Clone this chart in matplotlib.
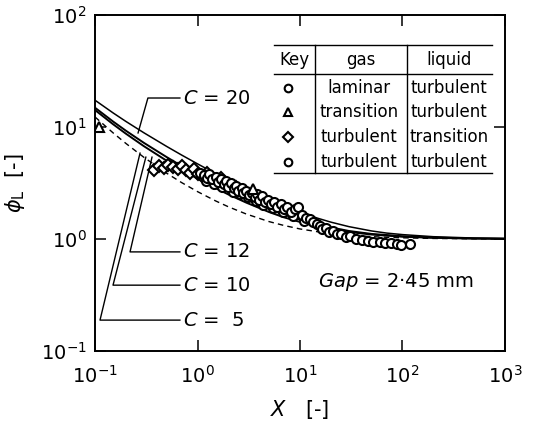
import matplotlib
matplotlib.use('Agg')
import matplotlib.pyplot as plt
from matplotlib.lines import Line2D

plt.rcParams['font.family'] = 'DejaVu Sans'
plt.rcParams['mathtext.fontset'] = 'dejavusans'

# correlation curves
curve_x = [0.1, 0.15, 0.2, 0.3, 0.5, 0.7, 1, 1.5, 2, 3, 5, 7, 10, 15, 20,
           30, 50, 70, 100, 200, 500, 1000]
c20 = [17.35, 13.37, 11.22, 8.88, 6.71, 5.62, 4.69, 3.84, 3.35, 2.79, 2.24,
       1.97, 1.73, 1.53, 1.415, 1.29, 1.18, 1.13, 1.095, 1.049, 1.020, 1.010]
c12 = [14.87, 11.20, 9.27, 7.22, 5.39, 4.49, 3.74, 3.07, 2.69, 2.26, 1.85,
       1.65, 1.49, 1.34, 1.27, 1.18, 1.11, 1.086, 1.058, 1.030, 1.012, 1.006]
c10 = [14.18, 10.59, 8.72, 6.74, 5.00, 4.16, 3.46, 2.85, 2.50, 2.11, 1.74,
       1.56, 1.42, 1.29, 1.23, 1.155, 1.096, 1.072, 1.049, 1.025, 1.010, 1.005]
c5 = [12.29, 8.87, 7.14, 5.36, 3.87, 3.19, 2.65, 2.19, 1.94, 1.67, 1.43,
      1.32, 1.23, 1.16, 1.12, 1.08, 1.05, 1.036, 1.025, 1.012, 1.005, 1.0025]

# measured points
diam_x = [0.38, 0.42, 0.47, 0.52, 0.58, 0.64, 0.7, 0.77, 0.85, 0.93, 1.02,
          1.12, 1.25, 1.4, 1.55, 1.7, 1.9, 2.1, 2.4]
diam_y = [4.1, 4.5, 4.3, 4.6, 4.4, 4.2, 4.5, 4.1, 3.9, 4.2, 3.8, 3.6, 3.9,
          3.5, 3.3, 3.5, 3.1, 3.0, 2.9]

tri_x = [0.11, 3.5]
tri_y = [10.0, 2.8]

lam_x = [1.2, 1.45, 1.75, 2.2, 2.6, 3.1, 3.7, 4.4, 5.4, 6.8, 8.5, 11]
lam_y = [3.3, 3.1, 2.9, 2.65, 2.5, 2.35, 2.2, 2.0, 1.9, 1.75, 1.62, 1.45]

turb_x = [1.05, 1.15, 1.25, 1.3, 1.4, 1.5, 1.6, 1.7, 1.8, 1.9, 2.0, 2.1,
          2.25, 2.4, 2.5, 2.7, 2.8, 3.0, 3.2, 3.4, 3.6, 3.8, 4.0, 4.3, 4.6,
          4.9, 5.2, 5.6, 6.0, 6.5, 7.0, 7.5, 8.2, 9.0, 9.6, 10.5, 11.5, 12.5,
          13.5, 14.5, 15.5, 16.5, 18, 19, 21, 23, 25, 28, 31, 35, 40, 46, 52,
          60, 68, 78, 88, 97, 118]
turb_y = [3.9, 3.7, 3.5, 3.8, 3.4, 3.6, 3.2, 3.4, 3.1, 3.3, 2.9, 3.15,
          2.85, 3.0, 2.7, 2.85, 2.55, 2.7, 2.45, 2.6, 2.35, 2.5, 2.25, 2.4,
          2.15, 2.25, 2.05, 2.15, 1.95, 2.05, 1.85, 1.95, 1.75, 1.85, 1.95,
          1.65, 1.55, 1.5, 1.42, 1.35, 1.3, 1.22, 1.25, 1.15, 1.18, 1.1, 1.12,
          1.05, 1.06, 1.0, 0.98, 0.96, 0.95, 0.94, 0.93, 0.92, 0.9, 0.88, 0.91]

key_rows = [('o', 'laminar', 'turbulent'),
            ('^', 'transition', 'turbulent'),
            ('D', 'turbulent', 'transition'),
            ('o', 'turbulent', 'turbulent')]

fig = plt.figure(figsize=(5.35, 4.34), dpi=100)
ax = fig.add_axes([0.1776, 0.1912, 0.7663, 0.7742])

ax.plot(curve_x, c20, color='black', lw=1.1)
ax.plot(curve_x, c12, color='black', lw=1.4)
ax.plot(curve_x, c10, color='black', lw=1.4)
ax.plot(curve_x, c5, color='black', lw=1.0, dashes=(4, 3))

mk = dict(linestyle='none', mfc='white', mec='black', mew=1.5)
ax.plot(diam_x, diam_y, marker='D', ms=6, **mk)
ax.plot(lam_x, lam_y, marker='o', ms=6.5, **mk)
ax.plot(turb_x, turb_y, marker='o', ms=6.5, **mk)
ax.plot(tri_x, tri_y, marker='^', ms=6.5, **mk)

ax.set_xscale('log')
ax.set_yscale('log')
ax.set_xlim(0.1, 1000)
ax.set_ylim(0.1, 100)
ax.minorticks_off()
ax.tick_params(which='major', direction='in', length=8, width=1.1,
               top=True, right=True, labelsize=14)
ax.tick_params(axis='x', pad=10)
ax.tick_params(axis='y', pad=6)
for s in ax.spines.values():
    s.set_linewidth(1.4)

ax.set_xlabel(r'$X$   [-]', fontsize=15, labelpad=8)
ax.set_ylabel(r'$\phi_{\rm L}$  [-]', fontsize=15, labelpad=10)

# leaders to the curves (axes fraction)
tr = ax.transAxes
lk = dict(color='black', lw=1.0, transform=tr)
ax.plot([0.207, 0.129, 0.105], [0.753, 0.753, 0.649], **lk)
ax.plot([0.139, 0.0854, 0.207], [0.577, 0.295, 0.295], **lk)
ax.plot([0.124, 0.0439, 0.207], [0.577, 0.196, 0.196], **lk)
ax.plot([0.1098, 0.0122, 0.207], [0.589, 0.092, 0.092], **lk)
tk = dict(transform=tr, fontsize=14, ha='left', va='center')
ax.text(0.215, 0.753, r'$C$ = 20', **tk)
ax.text(0.215, 0.295, r'$C$ = 12', **tk)
ax.text(0.215, 0.196, r'$C$ = 10', **tk)
ax.text(0.215, 0.092, r'$C$ =  5', **tk)

ax.text(0.545, 0.205, r'$Gap$ = 2·45 mm', transform=tr, fontsize=14,
        ha='left', va='center')

# key table
x0, x1 = 0.437, 0.968
d1, d2 = 0.537, 0.761
yt, yh, yb = 0.911, 0.824, 0.530
for yy in (yt, yh, yb):
    ax.add_line(Line2D([x0, x1], [yy, yy], color='black', lw=1.0,
                       transform=tr))
for xx in (d1, d2):
    ax.add_line(Line2D([xx, xx], [yt, yb], color='black', lw=1.0,
                       transform=tr))
hk = dict(transform=tr, fontsize=12, ha='center', va='center')
ax.text(0.487, 0.866, 'Key', **hk)
ax.text(0.649, 0.866, 'gas', **hk)
ax.text(0.864, 0.866, 'liquid', **hk)
row_y = [0.783, 0.710, 0.637, 0.563]
for (m, g, l), yy in zip(key_rows, row_y):
    ax.plot([0.471], [yy], marker=m, ms=5.5 if m != '^' else 6,
            transform=tr, **mk)
    ax.text(0.643, yy, g, **hk)
    ax.text(0.864, yy, l, **hk)

plt.savefig('out.png', dpi=100)
